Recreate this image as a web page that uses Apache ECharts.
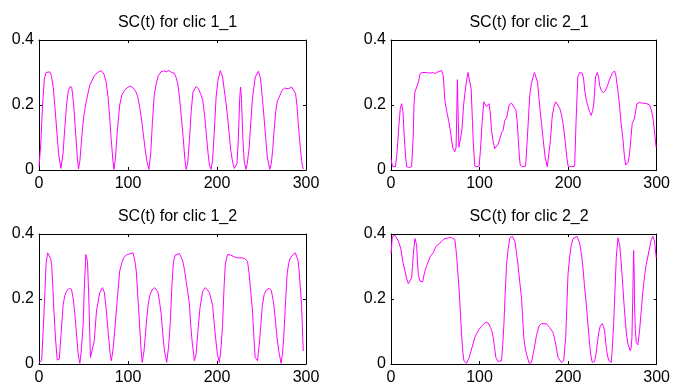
<!DOCTYPE html>
<html>
<head>
<meta charset="utf-8">
<script src="https://cdn.jsdelivr.net/npm/echarts@6/dist/echarts.min.js"></script>
<style>
  html, body { margin: 0; padding: 0; background: #fff; }
  #main { width: 673px; height: 387px; }
</style>
</head>
<body>
<div id="main"></div>
<script>
// titles and ticks
var titles = ['SC(t) for clic 1_1', 'SC(t) for clic 2_1', 'SC(t) for clic 1_2', 'SC(t) for clic 2_2'];
var xTicks = [0, 100, 200, 300];
var yTicks = [0, 0.2, 0.4];

// clic 1_1
var t11 = [0,2,4,6,8,10,12,14,16,18,20,22,24.6,
  27,29,31,33,35.4,37,39,41,43,44.4,
  46,48,50,53,57,62,66,70,73,75.5,77.6,79.5,81,83,84.3,
  86,88,90.7,93,96,100,103,106,109,111,113,115,117,119,121,123.5,
  125.5,127.5,129.5,131.7,134,137,140,143,146,149,152,154,156,158,160,162,164,165.3,
  167,169,171,173,176.5,179,181.5,184,186,188,190,191.5,193.3,
  195,197,199,201,203.7,206.3,208,210,212,213.7,215.5,217.5,219.5,221.3,
  222.5,224,225.5,226.5,227.5,229,230.5,232.5,
  234,236.2,238,240,243,246.6,249,251,252.8,254.7,256.5,259.3,
  261,262.5,264.1,266,267.9,270,273,276,280,284,286,288.3,289.8,291.3,292.6,293.9,295.5,297];
var v11 = [0.01,0.08,0.2,0.28,0.3,0.305,0.302,0.29,0.255,0.19,0.12,0.05,0.005,
  0.05,0.13,0.2,0.245,0.258,0.25,0.2,0.12,0.04,0.003,
  0.03,0.1,0.16,0.21,0.26,0.29,0.3,0.306,0.295,0.27,0.224,0.16,0.1,0.03,0.002,
  0.04,0.12,0.2,0.23,0.245,0.255,0.258,0.252,0.24,0.225,0.195,0.16,0.115,0.07,0.03,0.002,
  0.05,0.15,0.23,0.265,0.29,0.302,0.305,0.302,0.306,0.3,0.298,0.285,0.265,0.22,0.16,0.1,0.03,0.002,
  0.02,0.09,0.18,0.24,0.257,0.25,0.235,0.215,0.17,0.11,0.05,0.015,0.002,
  0.03,0.12,0.225,0.275,0.306,0.286,0.25,0.21,0.16,0.112,0.06,0.025,0.005,0.002,
  0.02,0.1,0.22,0.255,0.22,0.1,0.03,0.002,
  0.02,0.07,0.15,0.224,0.286,0.304,0.28,0.22,0.163,0.1,0.04,0.002,
  0.02,0.06,0.12,0.18,0.214,0.225,0.245,0.252,0.25,0.255,0.25,0.235,0.2,0.143,0.1,0.06,0.02,0.003];

// clic 2_1
var t21 = [0,1.5,3,5,7,9,10.5,12,13.5,15,16.5,17.7,20,23.3,25,26,27,29,31,32.7,35,40,44,47,50,53,55,57,59,
  61,63,65,67,68.5,70,72,73.5,75,76,76.7,78,80,82,83.4,85,87,89,90.5,92,93,94.6,97,99.5,
  101,103,104.8,106,107.8,109.5,110.8,112,113.5,115.5,117.2,119,121,123,125,126.6,128.5,130.5,133.4,136,138,141,142.5,143.6,145,146,149,152,
  154,156.7,158.5,160.5,162,164,165.5,167,168.5,170,172,174,176.5,178,180,182,184,186,188,190.5,192.5,194.3,197,198.5,200,204,207.4,
  209,211,213,216,217.5,219,220.5,222.5,224.3,226,227.5,228.9,231,233,234.5,235.6,237.5,239.4,241,242.4,244.5,247,250,252.5,254,256,258.2,
  260,262,263.5,265,266.8,268,269.4,271,272.4,275,276.5,277.7,280.6,283,285,288,292,294,295.7,297.5,299.4];
var v21 = [0.036,0.012,0.008,0.01,0.06,0.14,0.19,0.204,0.18,0.1,0.04,0.01,0.008,0.01,0.1,0.2,0.24,0.245,0.27,0.295,0.3,0.3,0.298,0.3,0.297,0.302,0.3,0.306,0.29,
  0.21,0.18,0.153,0.122,0.09,0.066,0.056,0.07,0.278,0.15,0.07,0.075,0.12,0.2,0.235,0.27,0.3,0.3,0.25,0.15,0.08,0.012,0.01,0.012,
  0.06,0.15,0.21,0.205,0.195,0.2,0.204,0.18,0.122,0.085,0.066,0.07,0.08,0.097,0.115,0.122,0.153,0.16,0.2,0.206,0.206,0.185,0.15,0.1,0.04,0.015,0.01,0.012,
  0.1,0.23,0.265,0.287,0.3,0.3,0.27,0.225,0.18,0.143,0.09,0.04,0.01,0.015,0.09,0.163,0.195,0.21,0.205,0.19,0.17,0.143,0.082,0.04,0.012,0.01,0.012,
  0.15,0.287,0.3,0.298,0.28,0.24,0.215,0.195,0.18,0.168,0.18,0.2,0.287,0.3,0.285,0.26,0.245,0.238,0.24,0.245,0.26,0.28,0.298,0.305,0.29,0.25,0.195,
  0.14,0.092,0.045,0.015,0.01,0.025,0.051,0.1,0.143,0.16,0.185,0.204,0.208,0.206,0.208,0.205,0.2,0.185,0.163,0.12,0.07];

// clic 1_2
var t12 = [0,3,5,6.7,8,9.7,11.6,13,14.2,15.5,16.8,18.5,20.5,22.8,25,27.2,29,31,34,36.5,38.5,40.3,42.5,44,45.9,
  47.5,49.6,51,52.6,54.5,56,57.8,60,62,64.6,68.3,71.3,73.5,75.7,78,80,81.3,
  83,85,88,90.7,93,95,98,101,103,105.6,107.5,109.3,111,113,114.5,116,
  118,120.5,122.5,124.3,127,130,133.6,135.5,137.3,139.2,141,143.5,
  145.5,147.4,149.5,151.1,153,155,157.8,159.5,161.6,163.5,165.3,167.2,169,170.5,172,174.6,
  176.5,178.5,180.9,183.9,186.9,189,191.4,193.3,195.1,197,198.8,200.5,202.6,
  204.5,206.3,208,209.3,211.9,213.8,215.5,217.5,219.5,221.3,224,227,230.6,232.5,234.3,236.2,238,239.9,241.5,242.9,245.5,
  247.5,249.3,251,253,255.5,258.6,261,263.5,265.7,267.5,269.4,272,
  273.5,275,277,278.8,280.5,282.5,285,288,290,291,292,293.5,295,296.9];
var v12 = [0.005,0.01,0.12,0.224,0.31,0.342,0.34,0.325,0.306,0.24,0.163,0.08,0.012,0.015,0.1,0.184,0.21,0.224,0.233,0.23,0.2,0.153,0.08,0.03,0.002,
  0.04,0.122,0.24,0.337,0.316,0.2,0.02,0.015,0.07,0.163,0.22,0.235,0.22,0.163,0.09,0.03,0.01,
  0.04,0.1,0.2,0.286,0.31,0.327,0.335,0.338,0.336,0.342,0.32,0.286,0.21,0.122,0.05,0.005,
  0.04,0.122,0.18,0.209,0.228,0.235,0.222,0.19,0.153,0.09,0.04,0.005,
  0.05,0.122,0.25,0.316,0.335,0.34,0.34,0.33,0.316,0.29,0.255,0.22,0.184,0.12,0.071,0.01,
  0.03,0.1,0.173,0.224,0.235,0.228,0.22,0.2,0.18,0.12,0.071,0.03,0.005,
  0.05,0.122,0.24,0.306,0.337,0.341,0.335,0.332,0.33,0.327,0.326,0.327,0.325,0.32,0.316,0.276,0.22,0.163,0.08,0.02,0.01,
  0.06,0.122,0.18,0.214,0.228,0.233,0.226,0.19,0.133,0.08,0.04,0.002,
  0.03,0.082,0.19,0.276,0.31,0.327,0.335,0.342,0.342,0.32,0.296,0.24,0.184,0.04];

// clic 2_2
var t22 = [0,1.5,4.5,5.6,8.3,10.9,13.2,15.8,17.5,19.5,21.4,23.3,24.3,25.2,27,28.9,29.8,30.8,32.7,35.7,37,38.3,40,42.1,44.7,47.7,50.7,55.2,58,60.9,64.6,67.3,69.5,72.1,
  74,75.5,77,78.5,79.7,81,82.3,85.3,88.3,91,94.7,97,99.6,102,104.1,107.1,109.8,112.4,114,115.4,117,118.4,121,124.8,
  126.2,127.5,129,130.5,132.3,134.2,137,139.9,141.8,143.6,145.5,147.4,148.7,150,151.5,153,156,158.6,
  161.3,164.2,167.2,169.8,175.5,179.2,183,184.5,186,188.6,192.4,195,
  197.3,198.6,199.9,201.8,203.6,205.5,207.4,210,213,215,216.8,218.5,220.5,222.5,224.3,225.8,227.3,229.9,
  231.5,232.9,234.5,236.3,238.6,240,241.2,243.1,244.5,246.1,248.7,
  250,251.4,253,254.4,256.3,258.2,259.7,261.2,263,264.9,266.2,267.6,270.2,271.2,272.1,273,274,274.6,275.1,276,277,278.8,
  280.7,282.5,284.5,286.3,288.2,290,292,293.9,295.8,297.6,299.5];
var v22 = [0.339,0.393,0.396,0.398,0.378,0.357,0.316,0.286,0.265,0.247,0.245,0.265,0.3,0.337,0.386,0.367,0.32,0.276,0.255,0.253,0.27,0.286,0.3,0.316,0.332,0.342,0.362,0.372,0.38,0.386,0.388,0.39,0.396,0.383,
  0.337,0.28,0.224,0.15,0.092,0.04,0.01,0.002,0.02,0.046,0.082,0.095,0.107,0.115,0.122,0.128,0.126,0.112,0.1,0.082,0.05,0.02,0.008,0.01,
  0.06,0.122,0.22,0.306,0.355,0.388,0.393,0.378,0.34,0.3,0.25,0.204,0.14,0.082,0.05,0.031,0.002,0.005,
  0.041,0.087,0.117,0.124,0.124,0.112,0.097,0.08,0.061,0.02,0.005,0.01,
  0.082,0.18,0.276,0.33,0.367,0.385,0.39,0.393,0.372,0.34,0.296,0.24,0.184,0.12,0.061,0.025,0.005,0.008,
  0.03,0.061,0.095,0.117,0.124,0.115,0.102,0.051,0.025,0.01,0.005,
  0.05,0.122,0.23,0.327,0.388,0.367,0.32,0.265,0.19,0.122,0.085,0.061,0.041,0.05,0.082,0.2,0.349,0.28,0.173,0.1,0.066,0.059,
  0.102,0.16,0.224,0.27,0.306,0.33,0.357,0.383,0.393,0.378,0.327];

function pairs(t, v) {
    var out = [];
    for (var i = 0; i < t.length; i++) out.push([t[i], v[i]]);
    return out;
}

var seriesData = [pairs(t11, v11), pairs(t21, v21), pairs(t12, v12), pairs(t22, v22)];

// subplot boxes, MATLAB-like 2x2
var boxes = [
    {left: 39, top: 40, width: 267, height: 130},
    {left: 391, top: 40, width: 266, height: 130},
    {left: 39, top: 234, width: 267, height: 130},
    {left: 391, top: 234, width: 266, height: 130}
];

var font = '"Liberation Sans", Arial, sans-serif';
var grids = [], xAxes = [], yAxes = [], series = [], titleList = [];

boxes.forEach(function(b, i){
    grids.push({left: b.left, top: b.top, width: b.width, height: b.height, containLabel: false});
    titleList.push({
        text: titles[i],
        left: b.left + b.width / 2,
        top: b.top - 30,
        textAlign: 'center',
        textStyle: {fontSize: 16, fontWeight: 'normal', color: '#000', fontFamily: font}
    });
    ['bottom', 'top'].forEach(function(pos){
        xAxes.push({
            type: 'value', gridIndex: i, position: pos,
            min: xTicks[0], max: xTicks[xTicks.length - 1], interval: 100,
            axisLine: {show: true, onZero: false, lineStyle: {color: '#000', width: 1}},
            axisTick: {show: true, inside: true, length: 3, lineStyle: {color: '#000'}},
            axisLabel: {show: pos === 'bottom', margin: 6, color: '#000', fontSize: 16, fontFamily: font},
            splitLine: {show: false}
        });
    });
    ['left', 'right'].forEach(function(pos){
        yAxes.push({
            type: 'value', gridIndex: i, position: pos,
            min: yTicks[0], max: yTicks[yTicks.length - 1], interval: 0.2,
            axisLine: {show: true, onZero: false, lineStyle: {color: '#000', width: 1}},
            axisTick: {show: true, inside: true, length: 3, lineStyle: {color: '#000'}},
            axisLabel: {show: pos === 'left', margin: 5, color: '#000', fontSize: 16, fontFamily: font},
            splitLine: {show: false}
        });
    });
    series.push({
        type: 'line',
        xAxisIndex: i * 2,
        yAxisIndex: i * 2,
        data: seriesData[i],
        showSymbol: false,
        symbol: 'none',
        lineStyle: {color: '#ff00ff', width: 1},
        clip: true
    });
});

var chart = echarts.init(document.getElementById('main'));
chart.setOption({
    backgroundColor: '#fff',
    animation: false,
    title: titleList,
    grid: grids,
    xAxis: xAxes,
    yAxis: yAxes,
    series: series
});
</script>
</body>
</html>
